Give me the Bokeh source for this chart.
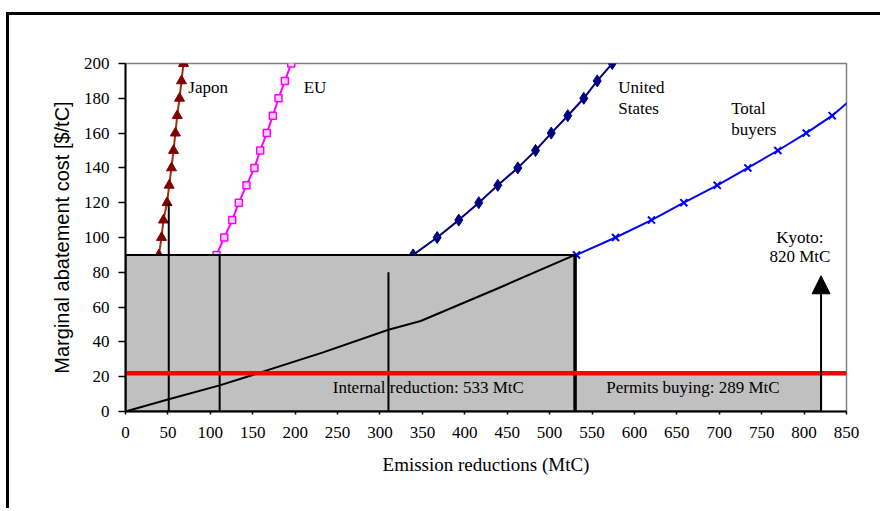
from bokeh.plotting import figure
from bokeh.models import Range1d, FixedTicker, Arrow, NormalHead
from bokeh.embed import file_html
from bokeh.resources import INLINE
from bokeh.core.properties import value

# ---- data ----
cost_levels = [0, 90, 100, 110, 120, 130, 140, 150, 160, 170, 180, 190, 200]
japon_x = [0, 39.3, 42.5, 44.7, 49.0, 51.5, 54.2, 56.6, 58.8, 61.0, 63.7, 66.0, 68.4]
eu_x = [0, 107.3, 116.4, 125.8, 133.6, 142.6, 152.0, 158.8, 166.6, 173.7, 180.4, 187.9, 195.4]
us_x = [0, 339.1, 367.4, 392.9, 416.5, 438.9, 462.5, 483.4, 501.9, 521.4, 540.3, 556.1, 573.8]
total_levels = [0, 90, 100, 110, 120, 130, 140, 150, 160, 170, 180]
total_x = [0, 531.7, 577.7, 620.1, 658.2, 697.6, 733.7, 769.1, 802.5, 833.1, 857.0]

internal_x = [0, 51, 111, 150, 233, 310, 348, 440, 530]
internal_y = [0, 7, 15, 21, 34, 47, 52, 71, 90]

permit_price = 22
internal_reduction = 530
kyoto_target = 820
internal_top = 90
marker_lines_x = [51, 111, 310]
marker_lines_bottom = [-7, 0, 0]
marker_lines_top = [120, 90, 80]
kyoto_arrow_top = 78

x_ticks = list(range(0, 851, 50))
y_ticks = list(range(0, 201, 20))

SERIF = "Liberation Serif"
SANS = "Liberation Sans"

p = figure(width=874, height=496, output_backend="svg", toolbar_location=None,
           x_range=Range1d(0, 850), y_range=Range1d(0, 200),
           min_border_left=116, min_border_right=37, min_border_top=48, min_border_bottom=100)
p.styles = {"margin-left": "6px", "margin-top": "12px",
            "border-top": "3px solid black", "border-left": "3px solid black"}
p.background_fill_color = "white"
p.border_fill_color = "white"
p.outline_line_color = "#808080"
p.outline_line_width = 1.5
p.grid.visible = False

# axes
p.xaxis.ticker = FixedTicker(ticks=x_ticks)
p.yaxis.ticker = FixedTicker(ticks=y_ticks)
for ax in (p.xaxis[0], p.yaxis[0]):
    ax.axis_line_color = "black"
    ax.axis_line_width = 2
    ax.major_tick_line_color = "black"
    ax.major_tick_line_width = 1.5
    ax.major_tick_in = 0
    ax.minor_tick_line_color = None
    ax.major_label_text_font = SERIF
    ax.major_label_text_font_size = "17px"
    ax.major_label_text_color = "black"
    ax.axis_label_text_font_style = "normal"
    ax.axis_label_text_color = "black"
p.xaxis.major_tick_out = 3
p.yaxis.major_tick_out = 7
p.xaxis.major_label_standoff = 12
p.yaxis.major_label_standoff = 9
p.xaxis.axis_label = "Emission reductions (MtC)"
p.xaxis.axis_label_text_font = SERIF
p.xaxis.axis_label_text_font_size = "19px"
p.xaxis.axis_label_standoff = 13
p.yaxis.axis_label = "Marginal abatement cost [$/tC]"
p.yaxis.axis_label_text_font = SANS
p.yaxis.axis_label_text_font_size = "20px"
p.yaxis.axis_label_standoff = 8

# country curves
p.line(japon_x, cost_levels, line_color="#A03010", line_width=2)
p.scatter(japon_x, cost_levels, marker="triangle", size=10, fill_color="#800000", line_color="#800000")
p.line(eu_x, cost_levels, line_color="#FF00FF", line_width=2)
p.scatter(eu_x, cost_levels, marker="square", size=7, fill_color="#FFD0FF", line_color="#FF00FF", line_width=1.5)
p.line(us_x, cost_levels, line_color="#000080", line_width=2)
p.scatter(us_x, cost_levels, marker="diamond", size=12, fill_color="#000080", line_color="#000080")
p.line(total_x, total_levels, line_color="#0000FF", line_width=2)
p.scatter(total_x, total_levels, marker="x", size=10, line_color="#0000FF", line_width=2)

# grey areas
p.quad(left=[0], right=[internal_reduction], bottom=[0], top=[internal_top],
       fill_color="#C0C0C0", line_color="black", line_width=2)
p.quad(left=[internal_reduction], right=[kyoto_target], bottom=[0], top=[permit_price],
       fill_color="#C0C0C0", line_color="black", line_width=2)
p.segment(x0=[internal_reduction], y0=[0], x1=[internal_reduction], y1=[internal_top],
          line_color="black", line_width=3.5)

# internal cost curve and vertical markers
p.line(internal_x, internal_y, line_color="black", line_width=2)
p.segment(x0=marker_lines_x, y0=marker_lines_bottom, x1=marker_lines_x, y1=marker_lines_top,
          line_color="black", line_width=2)

# permit price line
p.line([0, 850], [permit_price, permit_price], line_color="#FF0000", line_width=4.5)

# Kyoto arrow
p.add_layout(Arrow(end=NormalHead(size=18, fill_color="black", line_color="black"),
                   x_start=kyoto_target, y_start=0, x_end=kyoto_target, y_end=kyoto_arrow_top,
                   line_color="black", line_width=2))

# labels
def txt(x, y, s, align="left"):
    p.text(x=[x], y=[y], text=[s], text_font=value(SERIF), text_font_size="17px",
           text_color="black", text_align=align, text_baseline="middle")

txt(74, 186, "Japon")
txt(210, 186, "EU")
txt(581, 186, "United")
txt(581, 174, "States")
txt(714, 174, "Total")
txt(714, 162, "buyers")
txt(795, 100, "Kyoto:", "center")
txt(795, 89, "820 MtC", "center")
txt(357, 14, "Internal reduction: 533 MtC", "center")
txt(669, 14, "Permits buying: 289 MtC", "center")

open("out.html", "w").write(file_html(p, INLINE))
